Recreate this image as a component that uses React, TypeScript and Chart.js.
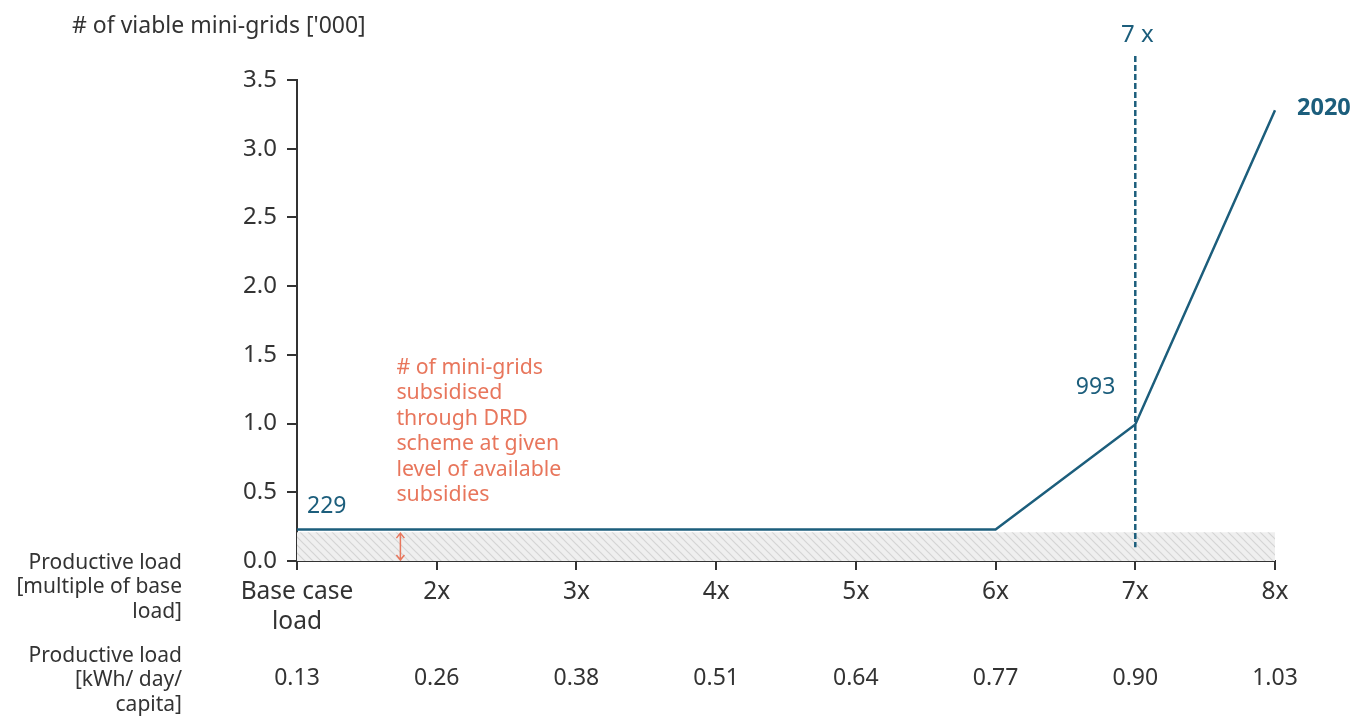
import React, { useEffect, useRef } from 'react';
import { Chart, registerables } from 'chart.js';

Chart.register(...registerables);

const multipleLabels: (string | string[])[] = [['Base case', 'load'], '2x', '3x', '4x', '5x', '6x', '7x', '8x'];
const kwhLabels = ['0.13', '0.26', '0.38', '0.51', '0.64', '0.77', '0.90', '1.03'];
const viableMiniGrids = [0.229, 0.229, 0.229, 0.229, 0.229, 0.229, 0.993, 3.28];
const subsidisedBand = [0.21, 0.21, 0.21, 0.21, 0.21, 0.21, 0.21, 0.21];
const yAxisTitle = "# of viable mini-grids ['000]";
const seriesName = '2020';
const firstValueLabel = '229';
const highlightIndex = 6;
const highlightValueLabel = '993';
const highlightLabel = '7 x';
const arrowPosition = 0.74;
const annotationLines = [
  '# of mini-grids',
  'subsidised',
  'through DRD',
  'scheme at given',
  'level of available',
  'subsidies',
];
const rowTitle1 = ['Productive load', '[multiple of base', 'load]'];
const rowTitle2 = ['Productive load', '[kWh/ day/', 'capita]'];

const FONT = "'Noto Sans', 'Open Sans', sans-serif";
const TEAL = '#1c5e7c';
const ORANGE = '#e8765c';
const DARK = '#333333';

function makeHatch(): CanvasPattern | string {
  const c = document.createElement('canvas');
  c.width = 8;
  c.height = 8;
  const g = c.getContext('2d');
  if (!g) return '#eeeeee';
  g.fillStyle = '#efefef';
  g.fillRect(0, 0, 8, 8);
  g.strokeStyle = '#d4d4d4';
  g.lineWidth = 1.2;
  g.beginPath();
  g.moveTo(-2, -2);
  g.lineTo(10, 10);
  g.moveTo(-2, 6);
  g.lineTo(2, 10);
  g.moveTo(6, -2);
  g.lineTo(10, 2);
  g.stroke();
  const p = g.createPattern(c, 'repeat');
  return p || '#eeeeee';
}

const annotationsPlugin = {
  id: 'annotationsPlugin',
  afterDraw(chart: any) {
    const ctx = chart.ctx as CanvasRenderingContext2D;
    const x = chart.scales.x;
    const y = chart.scales.y;
    ctx.save();

    // dashed vertical line at 7x
    const hx = x.getPixelForValue(highlightIndex);
    ctx.strokeStyle = TEAL;
    ctx.lineWidth = 2.5;
    ctx.setLineDash([6, 3]);
    ctx.beginPath();
    ctx.moveTo(hx, y.getPixelForValue(3.5) - 24);
    ctx.lineTo(hx, y.getPixelForValue(0.1));
    ctx.stroke();
    ctx.setLineDash([]);

    // orange double arrow
    const ax = x.getPixelForValue(arrowPosition);
    const aTop = y.getPixelForValue(subsidisedBand[0]) + 1;
    const aBot = y.getPixelForValue(0) - 1;
    ctx.strokeStyle = ORANGE;
    ctx.lineWidth = 1.5;
    ctx.beginPath();
    ctx.moveTo(ax, aTop);
    ctx.lineTo(ax, aBot);
    ctx.moveTo(ax - 4, aTop + 5);
    ctx.lineTo(ax, aTop);
    ctx.lineTo(ax + 4, aTop + 5);
    ctx.moveTo(ax - 4, aBot - 5);
    ctx.lineTo(ax, aBot);
    ctx.lineTo(ax + 4, aBot - 5);
    ctx.stroke();

    // annotation text
    ctx.fillStyle = ORANGE;
    ctx.font = `21.3px ${FONT}`;
    ctx.textAlign = 'left';
    ctx.textBaseline = 'middle';
    annotationLines.forEach((l, i) => {
      ctx.fillText(l, ax - 4, 368 + i * 25.4);
    });

    // value labels
    ctx.fillStyle = TEAL;
    ctx.font = `23px ${FONT}`;
    ctx.textAlign = 'left';
    ctx.fillText(firstValueLabel, x.getPixelForValue(0) + 10, y.getPixelForValue(viableMiniGrids[0]) - 23);
    ctx.textAlign = 'right';
    ctx.fillText(highlightValueLabel, hx - 20, y.getPixelForValue(viableMiniGrids[highlightIndex]) - 37);
    ctx.font = `24px ${FONT}`;
    ctx.textAlign = 'center';
    ctx.fillText(highlightLabel, hx + 2, 35);
    ctx.font = `bold 23.5px ${FONT}`;
    ctx.textAlign = 'left';
    const last = viableMiniGrids.length - 1;
    ctx.fillText(seriesName, x.getPixelForValue(last) + 22, y.getPixelForValue(viableMiniGrids[last]) - 2);

    // axis title
    ctx.fillStyle = DARK;
    ctx.font = `23px ${FONT}`;
    ctx.textAlign = 'left';
    ctx.fillText(yAxisTitle, 72, 26);

    // row titles
    ctx.font = `21px ${FONT}`;
    ctx.textAlign = 'right';
    rowTitle1.forEach((l, i) => ctx.fillText(l, 182, 563 + i * 24.5));
    rowTitle2.forEach((l, i) => ctx.fillText(l, 182, 656 + i * 24.5));

    ctx.restore();
  },
};

export default function App() {
  const ref = useRef<HTMLCanvasElement | null>(null);

  useEffect(() => {
    document.body.style.margin = '0';
    const canvas = ref.current;
    if (!canvas) return;
    const hatch = makeHatch();
    const chart = new Chart(canvas, {
      type: 'line',
      data: {
        labels: multipleLabels as any,
        datasets: [
          {
            label: 'Subsidised',
            data: subsidisedBand,
            borderWidth: 0,
            borderColor: 'rgba(0,0,0,0)',
            backgroundColor: hatch as any,
            fill: 'origin',
            pointRadius: 0,
            order: 2,
          },
          {
            label: seriesName,
            data: viableMiniGrids,
            borderColor: TEAL,
            borderWidth: 2.5,
            pointRadius: 0,
            tension: 0,
            fill: false,
            order: 1,
          },
        ],
      },
      options: {
        responsive: false,
        animation: false,
        layout: { padding: { left: 197, right: 80, top: 80, bottom: 0 } },
        plugins: { legend: { display: false }, tooltip: { enabled: false } },
        scales: {
          x: {
            type: 'category',
            position: 'bottom',
            offset: false,
            grid: { drawOnChartArea: false, drawTicks: true, tickLength: 9, color: DARK, lineWidth: 2 },
            border: { color: DARK, width: 2 },
            ticks: {
              color: DARK,
              font: { family: FONT, size: 24.5, lineHeight: 1.22 },
              padding: 7,
              maxRotation: 0,
              minRotation: 0,
              autoSkip: false,
            },
            afterFit(scale: any) {
              scale.height = 90;
            },
          },
          x2: {
            type: 'category',
            position: 'bottom',
            labels: kwhLabels,
            offset: false,
            grid: { display: false },
            border: { display: false },
            ticks: {
              color: DARK,
              font: { family: FONT, size: 23, lineHeight: 1.2 },
              padding: 6,
              maxRotation: 0,
              minRotation: 0,
              autoSkip: false,
            },
            afterFit(scale: any) {
              scale.height = 69;
            },
          },
          y: {
            min: 0,
            max: 3.5,
            grid: { drawOnChartArea: false, drawTicks: true, tickLength: 10, color: DARK, lineWidth: 2 },
            border: { color: DARK, width: 2 },
            ticks: {
              stepSize: 0.5,
              color: DARK,
              padding: 10,
              font: { family: FONT, size: 24 },
              callback: (v: any) => Number(v).toFixed(1),
            },
            afterFit(scale: any) {
              scale.width = 100;
            },
          },
        },
      },
      plugins: [annotationsPlugin],
    });
    return () => chart.destroy();
  }, []);

  return <canvas ref={ref} width={1355} height={720} style={{ display: 'block' }} />;
}
